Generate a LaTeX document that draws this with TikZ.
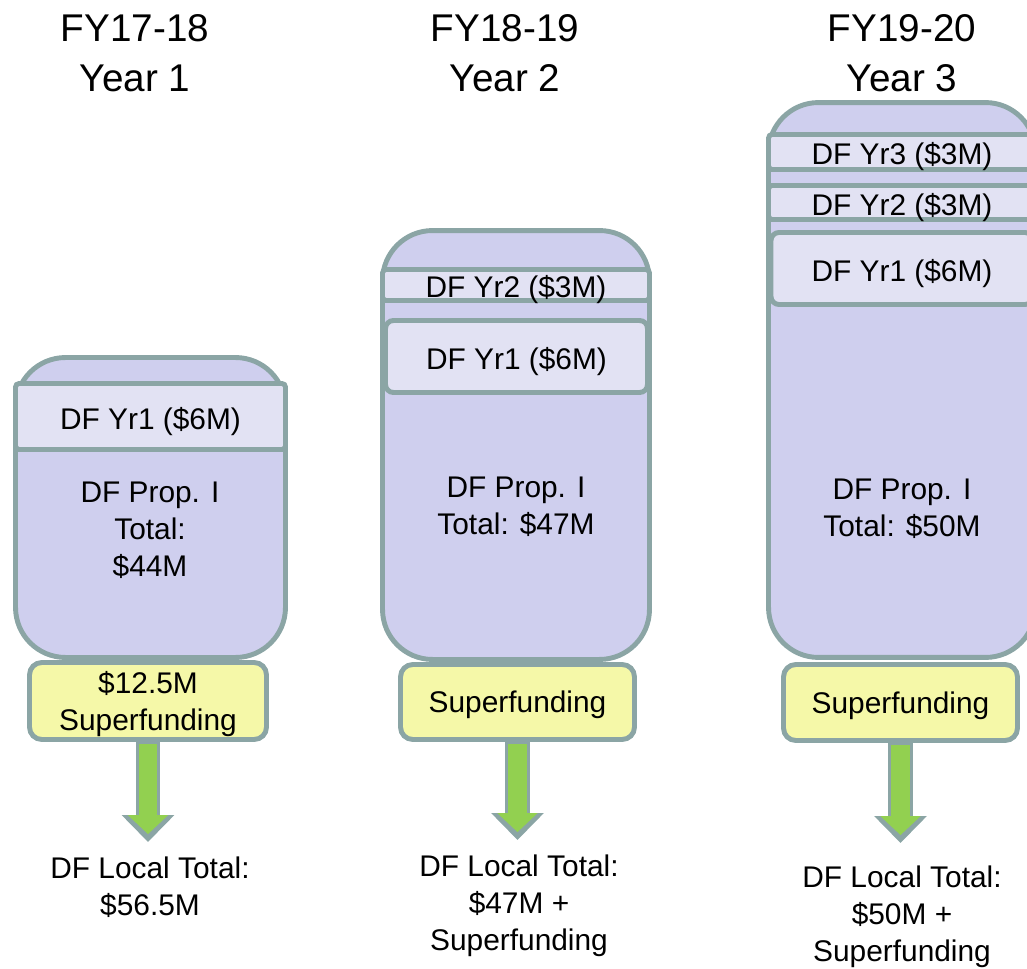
\documentclass[tikz,border=0pt]{standalone}
\usepackage{fontspec}
\setmainfont{Liberation Sans}
\definecolor{dflavender}{HTML}{CFCFEE}
\definecolor{dfband}{HTML}{E2E2F3}
\definecolor{dfborder}{HTML}{8BA5A5}
\definecolor{dfyellow}{HTML}{F5F8A8}
\definecolor{dfgreen}{HTML}{92D050}
\usetikzlibrary{arrows.meta,positioning}

\begin{document}
\begin{tikzpicture}[x=0.02cm, y=-0.02cm,
  drum/.style={draw=dfborder, fill=dflavender, line width=2.8pt, rounded corners=1cm},
  band/.style={draw=dfborder, fill=dfband, line width=2.8pt, rounded corners=2pt,
    inner sep=0pt, text height=14.5pt, text depth=0pt, font=\fontsize{17}{21}\selectfont},
  fund/.style={draw=dfborder, fill=dfyellow, line width=2.8pt, rounded corners=7pt,
    align=center, inner sep=0pt, text depth=0pt, font=\fontsize{17}{21}\selectfont},
  body/.style={align=center, font=\fontsize{17}{21}\selectfont},
  heading/.style={align=center, font=\fontsize{22}{28.4}\selectfont},
  shaftout/.style={dfborder, line width=14.2pt,
    -{Triangle[length=15.3pt, width=30pt, line width=0pt]}},
  shaftin/.style={dfgreen, line width=10.8pt, shorten <=1.4pt, shorten >=4.5pt,
    -{Triangle[length=10.8pt, width=23pt, line width=0pt]}}
]
  \useasboundingbox (0,0) rectangle (1027,969);
  \clip (0,0) rectangle (1027,969);

  % Headings
  \node[heading] (title1) at (135,53) {FY17-18\\Year 1};
  \node[heading] (title2) at (505,53) {FY18-19\\Year 2};
  \node[heading] (title3) at (902,53) {FY19-20\\Year 3};

  % Year 1
  \node[drum, minimum width=5.4cm, minimum height=6cm] (drum1) at (150.5,507.5) {};
  \node[band, minimum width=5.4cm, minimum height=1.32cm] (yr1a) at (150.5,416.5) {DF Yr1 (\$6M)};
  \node[body] (prop1) at (150,530) {DF Prop. I\\Total:\\\$44M};
  \node[fund, minimum width=4.74cm, minimum height=1.54cm] (super1) at (148,701) {\$12.5M\\Superfunding};

  % Year 2
  \node[drum, minimum width=5.34cm, minimum height=8.58cm] (drum2) at (516,445) {};
  \node[band, minimum width=5.34cm, minimum height=0.62cm] (yr2b) at (516,285) {DF Yr2 (\$3M)};
  \node[band, rounded corners=4.5pt, minimum width=5.24cm, minimum height=1.44cm] (yr1b) at (516.5,356.5) {DF Yr1 (\$6M)};
  \node[body] (prop2) at (516,507) {DF Prop. I\\Total: \$47M};
  \node[fund, minimum width=4.68cm, minimum height=1.5cm] (super2) at (517.5,702) {Superfunding};

  % Year 3
  \node[drum, minimum width=5.34cm, minimum height=11.1cm] (drum3) at (902,380) {};
  \node[band, minimum width=5.34cm, minimum height=0.7cm] (yr3c) at (902,152) {DF Yr3 (\$3M)};
  \node[band, minimum width=5.34cm, minimum height=0.68cm] (yr2c) at (902,202.5) {DF Yr2 (\$3M)};
  \node[band, rounded corners=4.5pt, minimum width=5.24cm, minimum height=1.44cm] (yr1c) at (902,268.5) {DF Yr1 (\$6M)};
  \node[body] (prop3) at (902,509) {DF Prop. I\\Total: \$50M};
  \node[fund, minimum width=4.68cm, minimum height=1.52cm] (super3) at (900.5,702.5) {Superfunding};

  % Local totals
  \node[body] (local1) at (150,887) {DF Local Total:\\\$56.5M};
  \node[body] (local2) at (519,906) {DF Local Total:\\\$47M +\\Superfunding};
  \node[body] (local3) at (902,917) {DF Local Total:\\\$50M +\\Superfunding};

  % Arrows
  \coordinate[below=2cm of super1] (tip1);
  \coordinate[below=1.96cm of super2] (tip2);
  \coordinate[below=2cm of super3] (tip3);
  \draw[shaftout] (super1.south) -- (tip1);
  \draw[shaftin] (super1.south) -- (tip1);
  \draw[shaftout] (super2.south) -- (tip2);
  \draw[shaftin] (super2.south) -- (tip2);
  \draw[shaftout] (super3.south) -- (tip3);
  \draw[shaftin] (super3.south) -- (tip3);
\end{tikzpicture}
\end{document}
